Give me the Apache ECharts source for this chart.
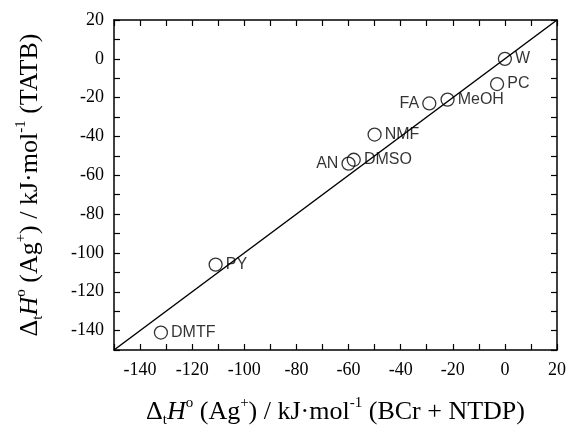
<!DOCTYPE html>
<html>
<head>
<meta charset="utf-8">
<script src="https://cdn.jsdelivr.net/npm/echarts@6/dist/echarts.min.js"></script>
<style>
  html, body { margin: 0; padding: 0; background: #fff; }
  #chart { width: 573px; height: 427px; }
</style>
</head>
<body>
<div id="chart"></div>
<script>
// solvents and transfer enthalpies of Ag+ (kJ/mol)
var solvents = ['W', 'PC', 'MeOH', 'FA', 'NMF', 'AN', 'DMSO', 'PY', 'DMTF'];
var dhBCr  = [0, -3, -22, -29, -50, -60, -58, -111, -132];
var dhTATB = [0, -13, -21, -23, -39, -54, -52, -106, -141];
// y = x reference line
var lineX = [-150, 20];
var lineY = [-150, 20];
var tickLabels = [-140, -120, -100, -80, -60, -40, -20, 0, 20];
var leftLabelled = ['FA', 'AN'];

(function () {
  var chart = echarts.init(document.getElementById('chart'));
  var serif = 'Liberation Serif';
  var black = '#000';

  function fmt(v) { return tickLabels.indexOf(v) >= 0 ? String(v) : ''; }

  var rich = {
    n: { fontFamily: serif, fontSize: 26, lineHeight: 32, color: black },
    i: { fontFamily: serif, fontSize: 26, lineHeight: 32, fontStyle: 'italic', color: black },
    p: { fontFamily: serif, fontSize: 15, lineHeight: 15, verticalAlign: 'top', color: black },
    s: { fontFamily: serif, fontSize: 15, lineHeight: 15, verticalAlign: 'bottom', color: black }
  };
  function title(tail) {
    return '{n|Δ}{s|t}{i|H}{p|o}{n| (Ag}{p|+}{n|) / kJ·mol}{p|-1}{n| (' + tail + ')}';
  }

  function axis(pos, main, name) {
    var a = {
      type: 'value', position: pos, min: -150, max: 20, interval: 10,
      axisLine: { show: true, onZero: false, lineStyle: { color: black, width: 1.5 } },
      axisTick: { show: true, inside: true, length: 6, lineStyle: { color: black, width: 1.2 } },
      axisLabel: { show: main, formatter: fmt, fontFamily: serif, fontSize: 18, color: black, margin: 10 },
      splitLine: { show: false }
    };
    if (main) {
      a.name = name;
      a.nameLocation = 'middle';
      a.nameTextStyle = { rich: rich };
    }
    return a;
  }

  var xMain = axis('bottom', true, title('BCr + NTDP'));
  xMain.nameGap = 46;
  xMain.axisLabel.margin = 11;
  var yMain = axis('left', true, title('TATB'));
  yMain.nameGap = 68;
  yMain.nameRotate = 90;

  var points = solvents.map(function (s, i) {
    return {
      name: s,
      value: [dhBCr[i], dhTATB[i]],
      label: { position: leftLabelled.indexOf(s) >= 0 ? 'left' : 'right' }
    };
  });

  chart.setOption({
    animation: false,
    grid: { left: 114, right: 16, top: 20, bottom: 77, outerBoundsMode: 'none', containLabel: false },
    xAxis: [xMain, axis('top', false)],
    yAxis: [yMain, axis('right', false)],
    series: [
      {
        type: 'line',
        data: lineX.map(function (x, i) { return [x, lineY[i]]; }),
        showSymbol: false,
        lineStyle: { color: black, width: 1.5 },
        z: 2
      },
      {
        type: 'scatter',
        data: points,
        symbol: 'circle',
        symbolSize: 13,
        itemStyle: { color: 'rgba(0,0,0,0)', borderColor: black, borderWidth: 1.3 },
        label: {
          show: true, distance: 3,
          formatter: function (p) { return p.name; },
          fontFamily: 'Liberation Sans', fontSize: 16, color: black
        },
        z: 3
      }
    ]
  });
})();
</script>
</body>
</html>
